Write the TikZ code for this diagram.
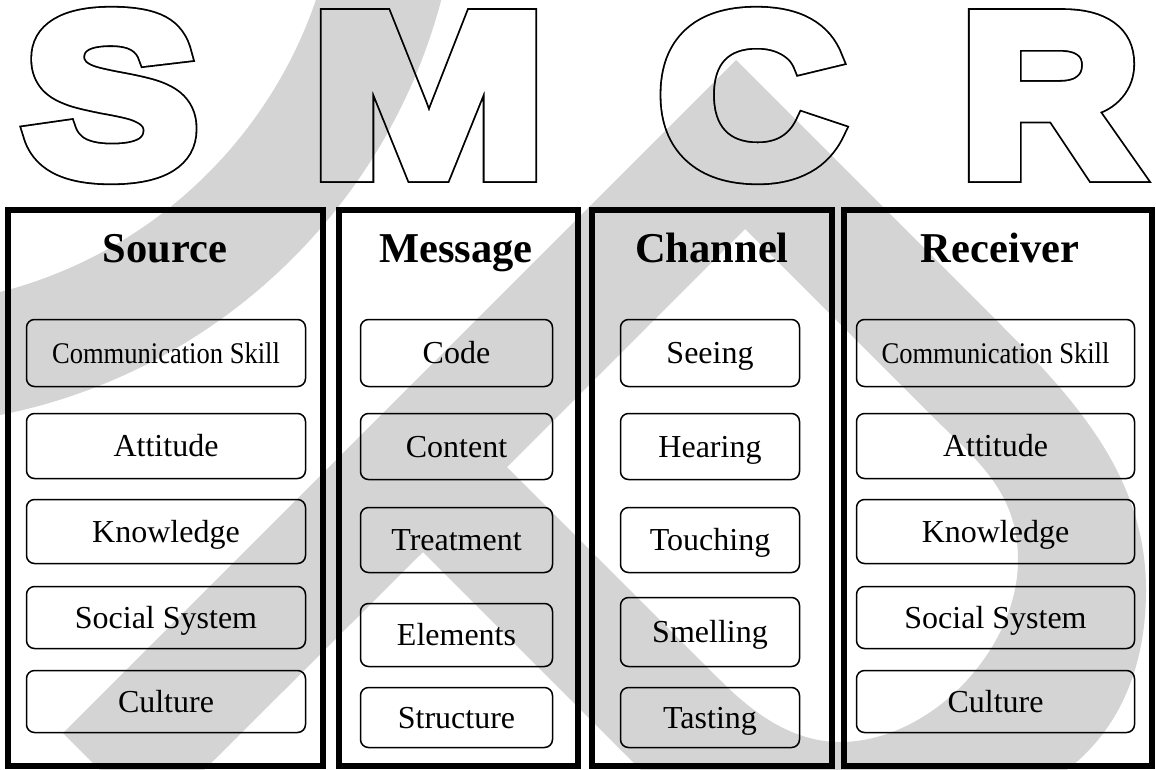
\documentclass[tikz,border=0pt]{standalone}
\usepackage{fontspec}
\usepackage{graphicx}
\setmainfont{Liberation Serif}
\newfontfamily\capsfontS{Liberation Sans}[FakeStretch=1.155]
\newfontfamily\capsfontM{Liberation Sans}[FakeStretch=1.25]
\newfontfamily\capsfontC{Liberation Sans}[FakeStretch=1.13]
\newfontfamily\capsfontR{Liberation Sans}[FakeStretch=1.09]
\definecolor{logogray}{gray}{0.83}

% heavy hollow letter: thick black stroke, then thinner white one on top
\newcommand\ringglyph[1]{%
  \rlap{\special{pdf:literal direct 2 Tr 17.8 w 0 j 3 M}#1}%
  {\color{white}\special{pdf:literal direct 2 Tr 14.2 w 0 j 3 M}#1}%
  \special{pdf:literal direct 0 Tr 1 w 10 M}}

\begin{document}
\begin{tikzpicture}[x=1pt, y=-1pt,
  col/.style={draw, line width=6pt, inner sep=0pt},
  item/.style={draw, line width=1.5pt, rounded corners=8pt, inner sep=0pt,
    text height=21pt, text depth=0pt, font=\fontsize{32}{38}\selectfont},
  head/.style={anchor=base, inner sep=0pt, font=\fontsize{42.5}{50}\selectfont\bfseries},
  bigletter/.style={anchor=base, inner sep=0pt, font=#1\bfseries\fontsize{228}{236}\selectfont}]

\useasboundingbox (0,0) rectangle (1156,769);
\fill[white] (0,0) rectangle (1156,769);

% the four initials
\node[bigletter=\capsfontS] (letS) at (111,174) {\ringglyph{S}};
\node[bigletter=\capsfontM] (letM) at (428.5,174) {\ringglyph{M}};
\node[bigletter=\capsfontC] (letC) at (751,174) {\ringglyph{C}};
\node[bigletter=\capsfontR] (letR) at (1050,174) {\ringglyph{R}};

% grey mark in the background
\begin{scope}[blend mode=multiply]
\fill[logogray, even odd rule] (-112,-146) circle (572pt) (-112,-146) circle (452pt);
\fill[logogray, even odd rule] (63,733) -- (736,60) -- (1000,324)
    .. controls (1080,404) and (1146,480) .. (1146,590)
    .. controls (1146,680) and (1110,740) .. (1060,775)
    -- (1060,900) -- (771,900) -- (423,552) -- (152,822) -- cycle
  (507,467) -- (745,229) -- (930,414)
    .. controls (975,459) and (1018,490) .. (1018,560)
    .. controls (1018,650) and (930,742) .. (840,742)
    .. controls (790,742) and (750,710) .. (720,680) -- cycle;
\end{scope}

% columns
\node[col, minimum width=314.5pt, minimum height=556.5pt] (source) at (165.25,487.75) {};
\node[col, minimum width=239pt, minimum height=556.5pt] (message) at (458,487.75) {};
\node[col, minimum width=240.5pt, minimum height=556.5pt] (channel) at (711.75,487.75) {};
\node[col, minimum width=308.5pt, minimum height=556.5pt] (receiver) at (997.75,487.75) {};

\node[head] (source-title) at (165,262) {Source};
\node[head] (message-title) at (456,262) {Message};
\node[head] (channel-title) at (712,262) {Channel};
\node[head] (receiver-title) at (1000,262) {Receiver};

% source
\node[item, minimum width=279pt, minimum height=67pt] (src-skill) at (166,353) {\scalebox{0.885}[1]{\fontsize{30}{36}\selectfont Communication Skill}};
\node[item, minimum width=279pt, minimum height=65pt] (src-attitude) at (166,446) {Attitude};
\node[item, minimum width=279pt, minimum height=64pt] (src-knowledge) at (166,531.5) {Knowledge};
\node[item, minimum width=279pt, minimum height=62pt] (src-social) at (166,617.5) {Social System};
\node[item, minimum width=279pt, minimum height=62pt] (src-culture) at (166,701.5) {Culture};

% message
\node[item, minimum width=192pt, minimum height=67pt] (msg-code) at (456.5,353) {Code};
\node[item, minimum width=192pt, minimum height=66pt] (msg-content) at (456.5,446.5) {Content};
\node[item, minimum width=192pt, minimum height=65pt] (msg-treatment) at (456.5,540) {Treatment};
\node[item, minimum width=192pt, minimum height=63pt] (msg-elements) at (456.5,635) {Elements};
\node[item, minimum width=192pt, minimum height=60pt] (msg-structure) at (456.5,717.5) {Structure};

% channel
\node[item, minimum width=179pt, minimum height=67pt] (ch-seeing) at (710,353) {Seeing};
\node[item, minimum width=179pt, minimum height=66pt] (ch-hearing) at (710,446.5) {Hearing};
\node[item, minimum width=179pt, minimum height=65pt] (ch-touching) at (710,540) {Touching};
\node[item, minimum width=179pt, minimum height=69pt] (ch-smelling) at (710,632) {Smelling};
\node[item, minimum width=179pt, minimum height=60pt] (ch-tasting) at (710,717.5) {Tasting};

% receiver
\node[item, minimum width=278pt, minimum height=67pt] (rcv-skill) at (995.5,353) {\scalebox{0.885}[1]{\fontsize{30}{36}\selectfont Communication Skill}};
\node[item, minimum width=278pt, minimum height=65pt] (rcv-attitude) at (995.5,446) {Attitude};
\node[item, minimum width=278pt, minimum height=64pt] (rcv-knowledge) at (995.5,531.5) {Knowledge};
\node[item, minimum width=278pt, minimum height=62pt] (rcv-social) at (995.5,617.5) {Social System};
\node[item, minimum width=278pt, minimum height=62pt] (rcv-culture) at (995.5,701.5) {Culture};
\end{tikzpicture}
\end{document}
